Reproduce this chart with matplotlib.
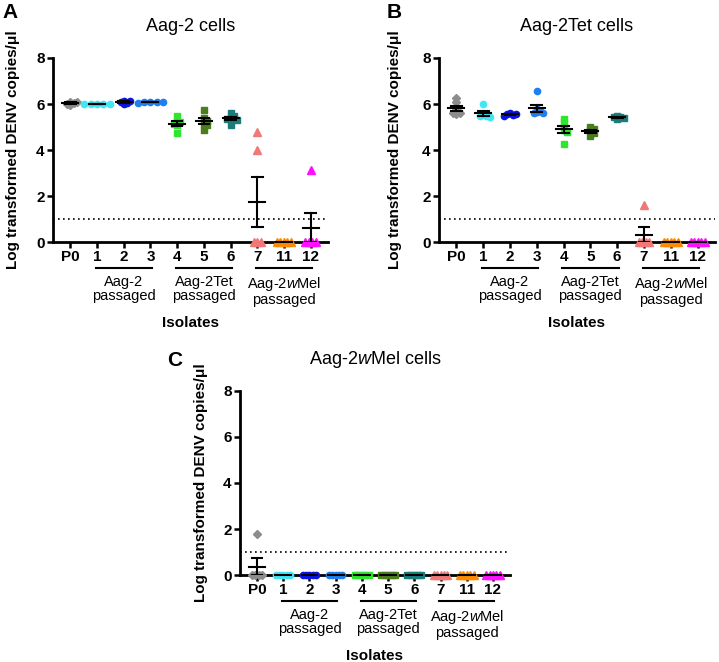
import numpy as np
import matplotlib
matplotlib.use("Agg")
import matplotlib.pyplot as plt
import matplotlib.transforms as mtransforms

plt.rcParams['font.family'] = ['Liberation Sans', 'DejaVu Sans']
plt.rcParams['mathtext.fontset'] = 'custom'
plt.rcParams['mathtext.rm'] = 'Liberation Sans'
plt.rcParams['mathtext.it'] = 'Liberation Sans:italic'
plt.rcParams['mathtext.bf'] = 'Liberation Sans:bold'

# isolates on the x axis
isolates = ['P0', '1', '2', '3', '4', '5', '6', '7', '11', '12']
colors = ['#8c8c8c', '#3fe6f5', '#0a14e6', '#1f7ef0', '#2ee62e',
          '#4a7d1c', '#1b7c7c', '#f27878', '#ff8a00', '#ff10ff']
markers = ['D', 'o', 'o', 'o', 's', 's', 's', '^', '^', '^']

groups = [(1, 3, 'Aag-2\npassaged'),
          (4, 6, 'Aag-2Tet\npassaged'),
          (7, 9, 'Aag-2$\\it{w}$Mel\npassaged')]

limit_of_detection = 1.0

# log transformed DENV copies/ul, one list per isolate
aag2_cells = [
    [6.10, 6.05, 6.00, 5.95, 6.10],
    [6.00, 6.01, 5.98, 6.02, 5.99],
    [6.15, 6.10, 6.05, 6.00, 6.12],
    [6.08, 6.10, 6.06, 6.07, 6.09],
    [5.46, 5.25, 5.20, 5.10, 4.75, 5.15],
    [5.75, 5.39, 5.25, 5.14, 4.88, 5.10],
    [5.60, 5.46, 5.32, 5.10, 5.40, 5.35],
    [4.80, 4.00, 0.0, 0.0, 0.0],
    [0.0, 0.0, 0.0, 0.0, 0.0],
    [3.15, 0.0, 0.0, 0.0, 0.0],
]

aag2tet_cells = [
    [6.25, 6.10, 5.75, 5.60, 5.55, 5.62],
    [6.00, 5.55, 5.45, 5.50, 5.47],
    [5.60, 5.55, 5.50, 5.58, 5.53],
    [6.55, 5.80, 5.70, 5.60, 5.62, 5.65],
    [5.35, 5.20, 5.00, 4.85, 4.80, 4.25],
    [5.00, 4.90, 4.85, 4.75, 4.60],
    [5.50, 5.45, 5.40, 5.43, 5.35],
    [1.60, 0.0, 0.0, 0.0, 0.0],
    [0.0, 0.0, 0.0, 0.0, 0.0],
    [0.0, 0.0, 0.0, 0.0, 0.0],
]

aag2wmel_cells = [
    [1.80, 0.0, 0.0, 0.0, 0.0],
    [0.0, 0.0, 0.0, 0.0, 0.0],
    [0.0, 0.0, 0.0, 0.0, 0.0],
    [0.0, 0.0, 0.0, 0.0, 0.0],
    [0.0, 0.0, 0.0, 0.0, 0.0],
    [0.0, 0.0, 0.0, 0.0, 0.0],
    [0.0, 0.0, 0.0, 0.0, 0.0],
    [0.0, 0.0, 0.0, 0.0, 0.0],
    [0.0, 0.0, 0.0, 0.0, 0.0],
    [0.0, 0.0, 0.0, 0.0, 0.0],
]


def swarm_offsets(values, step=0.12, px_x=26.7, px_y=23.0, r=3.3, zero_step=0.13):
    # simple beeswarm: spread points sideways so they don't sit on top of each other
    placed = []
    offsets = np.zeros(len(values))
    order = np.argsort(values)[::-1]
    for i in order:
        v = values[i]
        k = 0
        while True:
            cand = 0 if k == 0 else ((k + 1) // 2) * step * (1 if k % 2 else -1)
            ok = all(np.hypot((cand - o) * px_x, (v - w) * px_y) >= r for o, w in placed)
            if ok:
                break
            k += 1
        placed.append((cand, v))
        offsets[i] = cand
    # the zeros sit in one centred row on the axis
    idx = np.where(values == 0)[0]
    if len(idx) > 1:
        offsets[idx] = (np.arange(len(idx)) - (len(idx) - 1) / 2) * zero_step
    return offsets


def draw_panel(ax, data, title, letter, letter_xy, ylabel_x):
    x = np.arange(len(isolates))
    for i, vals in enumerate(data):
        vals = np.array(vals)
        off = swarm_offsets(vals)
        ms = {'D': 4.0, 'o': 4.5, 's': 4.3, '^': 5.3}[markers[i]]
        ax.plot(x[i] + off, vals, linestyle='none', marker=markers[i], ms=ms,
                color=colors[i], mec=colors[i], clip_on=False, zorder=4)
        mean = vals.mean()
        sem = vals.std(ddof=1) / np.sqrt(len(vals))
        ax.plot([x[i] - 0.3, x[i] + 0.3], [mean, mean], color='black', lw=1.5,
                zorder=5, clip_on=False)
        if sem > 0:
            ax.plot([x[i], x[i]], [mean - sem, mean + sem], color='black', lw=1.5, zorder=5)
            for y in (mean - sem, mean + sem):
                ax.plot([x[i] - 0.2, x[i] + 0.2], [y, y], color='black', lw=1.5, zorder=5)

    ax.axhline(limit_of_detection, color='black', lw=1.2, linestyle=(0, (1, 2)), zorder=3)

    ax.set_xlim(-0.65, 9.65)
    ax.set_ylim(0, 8)
    ax.set_yticks([0, 2, 4, 6, 8])
    ax.set_xticks(x)
    ax.set_xticklabels(isolates)
    for s in ['top', 'right']:
        ax.spines[s].set_visible(False)
    for s in ['left', 'bottom']:
        ax.spines[s].set_linewidth(2)
        ax.spines[s].set_zorder(3)
    ax.tick_params(width=1.8, length=4, labelsize=11, pad=2)
    for lab in ax.get_xticklabels() + ax.get_yticklabels():
        lab.set_fontweight('bold')

    ax.set_ylabel('Log transformed DENV copies/\u03bcl', fontsize=11, fontweight='bold')
    ax.yaxis.set_label_coords(ylabel_x, 0.5)

    trans = mtransforms.blended_transform_factory(ax.transData, ax.transAxes)
    for start, end, label in groups:
        ax.plot([start - 0.05, end + 0.05], [-0.142, -0.142], color='black', lw=1.5,
                transform=trans, clip_on=False)
        ax.text((start + end) / 2, -0.18, label, transform=trans, ha='center', va='top',
                fontsize=10.5, linespacing=1.0)

    ax.text(0.5, -0.44, 'Isolates', transform=ax.transAxes, ha='center', va='center',
            fontsize=11, fontweight='bold')
    ax.text(0.5, 1.17, title, transform=ax.transAxes, ha='center', va='center', fontsize=13)
    ax.figure.text(letter_xy[0] / 719, 1 - letter_xy[1] / 662, letter, ha='center',
                   va='center', fontsize=15, fontweight='bold')


fig = plt.figure(figsize=(7.19, 6.62), dpi=100)
ax_a = fig.add_axes([0.0737, 0.6344, 0.3825, 0.278])
ax_b = fig.add_axes([0.6106, 0.6344, 0.3838, 0.278])
ax_c = fig.add_axes([0.3338, 0.1314, 0.3755, 0.278])

draw_panel(ax_a, aag2_cells, 'Aag-2 cells', 'A', (10, 12), -0.12)
draw_panel(ax_b, aag2tet_cells, 'Aag-2Tet cells', 'B', (394, 12), -0.135)
draw_panel(ax_c, aag2wmel_cells, 'Aag-2$\\it{w}$Mel cells', 'C', (175, 360), -0.12)

fig.savefig('out.png', dpi=100)
